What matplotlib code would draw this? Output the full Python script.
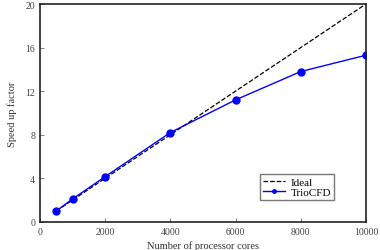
import matplotlib.pyplot as plt

nucleos = [500, 1000, 2000, 4000, 6000, 8000, 10000]
ideal = [1, 2, 4, 8, 12, 16, 20]
triocfd = [1.0, 2.1, 4.15, 8.2, 11.2, 13.8, 15.3]

plt.rcParams['font.family'] = ['Liberation Serif', 'DejaVu Serif']

fig = plt.figure(figsize=(3.8, 2.51), dpi=100)
ax = fig.add_axes([0.105, 0.112, 0.858, 0.868])

ax.plot(nucleos, ideal, '--', color='black', lw=0.9, label="Ideal")
ax.plot(nucleos, triocfd, '-o', color='#0000ff', lw=1.0, markersize=5, label="TrioCFD")

ax.set_xlim(0, 10000)
ax.set_ylim(0, 20)
ax.set_xticks([0, 2000, 4000, 6000, 8000, 10000])
ax.set_yticks([0, 4, 8, 12, 16, 20])
ax.tick_params(direction='in', labelsize=7, length=3, width=0.6,
               labelcolor='#444444', color='#666666')
ax.set_xlabel("Number of processor cores", fontsize=7.5, labelpad=3, color='#333333')
ax.set_ylabel("Speed up factor", fontsize=7.5, labelpad=6, color='#333333')
for s in ax.spines.values():
    s.set_linewidth(1.2)
    s.set_color('#222222')

ax.legend(loc='lower right', bbox_to_anchor=(0.902, 0.1), borderaxespad=0, fontsize=8,
          frameon=True, fancybox=False, edgecolor='#555555', handlelength=2,
          handletextpad=0.5, borderpad=0.25, labelspacing=0.05, markerscale=0.5)

fig.savefig("out.png", dpi=100)
